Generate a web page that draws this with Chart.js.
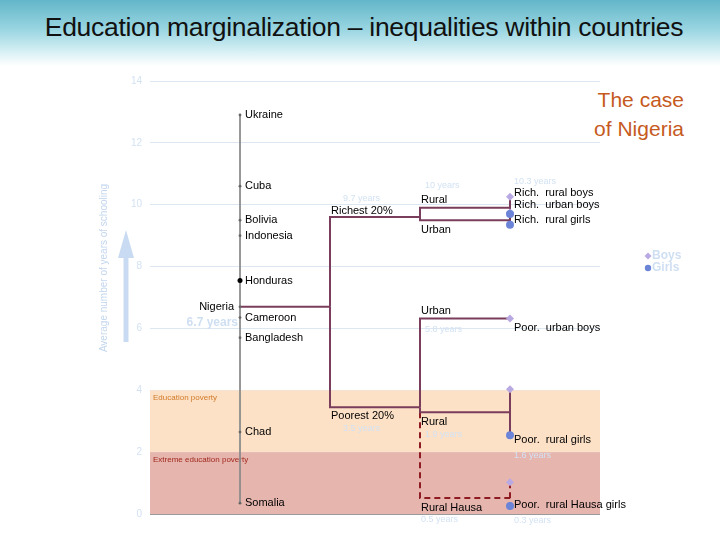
<!DOCTYPE html>
<html>
<head>
<meta charset="utf-8">
<script src="https://cdn.jsdelivr.net/npm/chart.js@4/dist/chart.umd.min.js"></script>
<style>
  html, body { margin: 0; padding: 0; }
  body {
    width: 720px; height: 540px; overflow: hidden; position: relative;
    background: linear-gradient(180deg, #63b6c9 0px, #9ad6e2 30px, #d8f0f4 52px, #ffffff 66px);
    font-family: "Liberation Sans", Arial, sans-serif;
  }
  #title {
    position: absolute; left: 0; top: 12px; width: 728px; text-align: center;
    font-size: 26.5px; color: #111; letter-spacing: -0.3px;
  }
  #nigeria {
    position: absolute; right: 36px; top: 85px; text-align: right;
    font-size: 21px; line-height: 29px; color: #c65a1e;
  }
  #wrap { position: absolute; left: 0; top: 0; width: 720px; height: 540px; }
</style>
</head>
<body>
<div id="title">Education marginalization – inequalities within countries</div>
<div id="nigeria">The case<br>of Nigeria</div>
<div id="wrap"><canvas id="chart"></canvas></div>
<script>
// 国ごとの平均就学年数
const countries = ["Ukraine", "Cuba", "Bolivia", "Indonesia", "Honduras", "Nigeria", "Cameroon", "Bangladesh", "Chad", "Somalia"];
const countryYears = [12.9, 10.6, 9.5, 9.0, 7.55, 6.7, 6.35, 5.7, 2.65, 0.35];

// ナイジェリア国内の内訳
const groups = ["Richest 20%", "Poorest 20%"];
const groupYears = [9.6, 3.45];
const groupYearText = ["9.7 years", "3.5 years"];

const places = ["Rural", "Urban", "Urban", "Rural", "Rural Hausa"];
const placeYears = [9.9, 9.5, 6.32, 3.29, 0.52];
const placeGroup = [0, 0, 1, 1, 1];
const placeParent = [-1, -1, -1, -1, 3];
const placeYearText = ["10 years", "", "5.8 years", "1.9 years", "0.5 years"];

const boysYears = [10.26, 9.75, 6.32, 4.03, 1.03];
const girlsYears = [9.7, 9.35, null, 2.55, 0.26];

const endLabels = ["Rich.  rural boys", "Rich.  urban boys", "Rich.  rural girls", "Poor.  urban boys", "Poor.  rural girls", "Poor.  rural Hausa girls"];
const endLabelYears = [10.38, 10.0, 9.5, 6.0, 2.4, 0.3];
const endYearText = ["10.3 years", "", "", "", "1.6 years", "0.3 years"];
const endYearAt = [10.75, 0, 0, 0, 1.9, -0.2];

const nigeriaText = "6.7 years";
const bands = [
  { label: "Education poverty", from: 2, to: 4, fill: "#fde1c6", color: "#d07a2a" },
  { label: "Extreme education poverty", from: 0, to: 2, fill: "#e6b5ae", color: "#a0281e" },
];

const colX = [20, 40, 60, 80];
const LINE = "#7b3d5c";
const DASH = "#8e1a22";

// 樹形図の線分を組み立てる
const segments = [];
const nig = countryYears[countries.indexOf("Nigeria")];
segments.push({ pts: [[colX[0], nig], [colX[1], nig]], dash: false });
groupYears.forEach((g) => {
  segments.push({ pts: [[colX[1], nig], [colX[1], g], [colX[2], g]], dash: false });
});
places.forEach((p, i) => {
  const from = placeParent[i] < 0 ? groupYears[placeGroup[i]] : placeYears[placeParent[i]];
  const dash = placeParent[i] >= 0;
  segments.push({ pts: [[colX[2], from], [colX[2], placeYears[i]], [colX[3], placeYears[i]]], dash });
  if (girlsYears[i] !== null) {
    segments.push({ pts: [[colX[3], boysYears[i]], [colX[3], girlsYears[i]]], dash });
  }
});

const lineSets = segments.map((s) => ({
  data: s.pts.map(([x, y]) => ({ x, y })),
  showLine: true,
  borderColor: s.dash ? DASH : LINE,
  borderWidth: 2,
  borderDash: s.dash ? [6, 4] : [],
  pointRadius: 0,
  order: 3,
}));

const datasets = [
  {
    data: [{ x: colX[0], y: Math.max(...countryYears) }, { x: colX[0], y: Math.min(...countryYears) }],
    showLine: true, borderColor: "#8a8a8a", borderWidth: 1, pointRadius: 0, order: 4,
  },
  {
    data: countryYears.map((y) => ({ x: colX[0], y })),
    pointRadius: countries.map((c) => (c === "Honduras" ? 2.5 : 1.4)),
    pointBackgroundColor: countries.map((c) => (c === "Honduras" ? "#000" : "#666")),
    pointBorderWidth: 0, order: 2,
  },
  ...lineSets,
  {
    label: "Boys",
    data: boysYears.map((y) => ({ x: colX[3], y })),
    pointStyle: "rectRot", pointRadius: 4, pointBackgroundColor: "#b9a9e2", pointBorderWidth: 0, order: 1,
  },
  {
    label: "Girls",
    data: girlsYears.filter((y) => y !== null).map((y) => ({ x: colX[3], y })),
    pointStyle: "circle", pointRadius: 4, pointBackgroundColor: "#6c84d8", pointBorderWidth: 0, order: 0,
  },
];

const decor = {
  id: "decor",
  beforeDatasetsDraw(chart) {
    const { ctx, chartArea: a, scales: { y } } = chart;
    ctx.save();
    bands.forEach((b) => {
      const t = y.getPixelForValue(b.to), btm = y.getPixelForValue(b.from);
      ctx.fillStyle = b.fill;
      ctx.fillRect(a.left, t, a.right - a.left, btm - t);
      ctx.fillStyle = b.color;
      ctx.font = "8px 'Liberation Sans'";
      ctx.textBaseline = "top";
      ctx.fillText(b.label, a.left + 3, t + 4);
    });
    ctx.strokeStyle = "#9a9a9a";
    ctx.lineWidth = 1;
    ctx.beginPath();
    ctx.moveTo(a.left, Math.round(y.getPixelForValue(0)) + 0.5);
    ctx.lineTo(a.right, Math.round(y.getPixelForValue(0)) + 0.5);
    ctx.stroke();

    // 縦軸タイトルと矢印
    ctx.fillStyle = "#c9dbf2";
    ctx.beginPath();
    ctx.moveTo(126, 230); ctx.lineTo(134, 258); ctx.lineTo(128.5, 258);
    ctx.lineTo(128.5, 342); ctx.lineTo(123.5, 342); ctx.lineTo(123.5, 258);
    ctx.lineTo(118, 258); ctx.closePath(); ctx.fill();
    ctx.translate(104, 268);
    ctx.rotate(-Math.PI / 2);
    ctx.font = "10px 'Liberation Sans'";
    ctx.textAlign = "center";
    ctx.textBaseline = "middle";
    ctx.fillStyle = "#c3d6ee";
    ctx.fillText("Average number of years of schooling", 0, 0);
    ctx.restore();
  },
  afterDatasetsDraw(chart) {
    const { ctx, scales: { x, y } } = chart;
    const px = (v) => x.getPixelForValue(v);
    const py = (v) => y.getPixelForValue(v);
    const text = (s, X, Y, align, font, color) => {
      ctx.font = font; ctx.fillStyle = color; ctx.textAlign = align; ctx.textBaseline = "middle";
      ctx.fillText(s, X, Y);
    };
    const F = "11px 'Liberation Sans'";
    const FAINT = "#d3e2f3";
    const FF = "9px 'Liberation Sans'";
    ctx.save();
    countries.forEach((c, i) => {
      if (c === "Nigeria") text(c, px(colX[0]) - 6, py(countryYears[i]), "right", F, "#000");
      else text(c, px(colX[0]) + 5, py(countryYears[i]), "left", F, "#000");
    });
    text(nigeriaText, px(colX[0]) - 2, py(nig) + 16, "right", "bold 12px 'Liberation Sans'", "#cfdff2");

    groups.forEach((g, i) => {
      const above = i === 0;
      text(g, px(colX[1]) + 1, py(groupYears[i]) + (above ? -6 : 9), "left", F, "#000");
      text(groupYearText[i], px(colX[1]) + 13, py(groupYears[i]) + (above ? -19 : 21), "left", FF, FAINT);
    });
    places.forEach((p, i) => {
      const above = i === 0 || i === 2;
      text(p, px(colX[2]) + 1, py(placeYears[i]) + (above ? -8 : 10), "left", F, "#000");
      if (placeYearText[i]) {
        const dy = above ? (i === 0 ? -22 : 11) : 22;
        text(placeYearText[i], px(colX[2]) + (i === 4 ? 1 : 5), py(placeYears[i]) + dy, "left", FF, FAINT);
      }
    });
    endLabels.forEach((l, i) => {
      text(l, px(colX[3]) + 4, py(endLabelYears[i]), "left", F, "#000");
      if (endYearText[i]) text(endYearText[i], px(colX[3]) + 4, py(endYearAt[i]), "left", FF, FAINT);
    });

    // 凡例
    const lx = 648;
    [["Boys", "#b9a9e2", "rectRot", 256], ["Girls", "#6c84d8", "circle", 268]].forEach(([s, c, st, ly]) => {
      ctx.fillStyle = c;
      ctx.beginPath();
      if (st === "rectRot") { ctx.moveTo(lx, ly - 3.5); ctx.lineTo(lx + 3.5, ly); ctx.lineTo(lx, ly + 3.5); ctx.lineTo(lx - 3.5, ly); }
      else ctx.arc(lx, ly, 3.2, 0, Math.PI * 2);
      ctx.fill();
      text(s, lx + 4, ly, "left", "bold 12px 'Liberation Sans'", "#cfdff2");
    });
    ctx.restore();
  },
};

new Chart(document.getElementById("chart"), {
  type: "scatter",
  data: { datasets },
  options: {
    responsive: true,
    maintainAspectRatio: false,
    animation: false,
    layout: { padding: { left: 0, top: 81, right: 120, bottom: 26 } },
    plugins: { legend: { display: false }, tooltip: { enabled: false } },
    scales: {
      x: { type: "linear", min: 0, max: 100, display: false },
      y: {
        type: "linear", min: 0, max: 14,
        afterFit: (s) => { s.width = 150; },
        border: { display: false },
        grid: { color: (c) => (c.tick.value === 0 ? "rgba(0,0,0,0)" : "#dde7f1"), drawTicks: false },
        ticks: { stepSize: 2, padding: 8, color: "#d3e2f3", font: { family: "Liberation Sans", size: 10 } },
      },
    },
  },
  plugins: [decor],
});
</script>
</body>
</html>
